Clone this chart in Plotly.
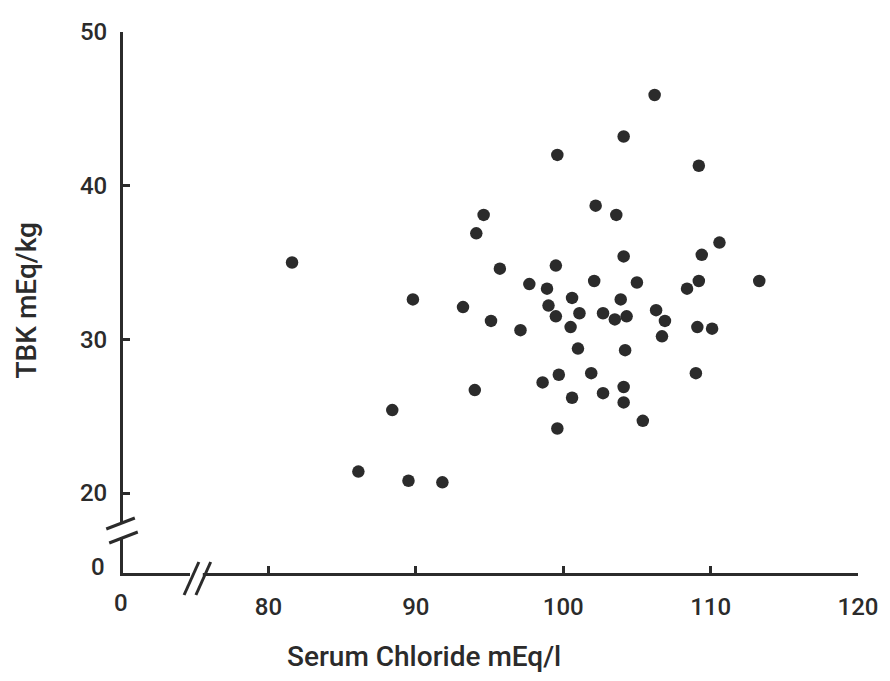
import plotly.graph_objects as go

# ---- data ----
chloride = [81.6, 86.1, 89.5, 91.8, 88.4, 89.8, 93.2, 94.0, 94.1, 94.6, 95.1, 95.7, 97.1, 97.7,
            98.6, 98.9, 99.0, 99.5, 99.5, 99.6, 99.6, 99.7, 100.6, 100.5, 100.6, 101.0, 101.1,
            101.9, 102.1, 102.2, 102.7, 102.7, 103.5, 103.6, 103.9, 104.1, 104.1, 104.2, 104.1,
            104.1, 104.3, 105.0, 105.4, 106.3, 106.2, 106.7, 106.9, 108.4, 109.0, 109.1, 109.2,
            109.2, 109.4, 110.1, 110.6, 113.3]
tbk = [35.0, 21.4, 20.8, 20.7, 25.4, 32.6, 32.1, 26.7, 36.9, 38.1, 31.2, 34.6, 30.6, 33.6,
       27.2, 33.3, 32.2, 31.5, 34.8, 42.0, 24.2, 27.7, 26.2, 30.8, 32.7, 29.4, 31.7,
       27.8, 33.8, 38.7, 26.5, 31.7, 31.3, 38.1, 32.6, 26.9, 25.9, 29.3, 35.4,
       43.2, 31.5, 33.7, 24.7, 31.9, 45.9, 30.2, 31.2, 33.3, 27.8, 30.8, 33.8,
       41.3, 35.5, 30.7, 36.3, 33.8]

x_ticks = [80, 90, 100, 110, 120]
y_ticks = [20, 30, 40, 50]
x_title = "Serum Chloride mEq/l"
y_title = "TBK mEq/kg"

# ---- layout geometry ----
FW, FH = 890, 681
L, R, T, B = 123, 21, 32, 108
W, H = FW - L - R, FH - T - B
X_RANGE = [70.13, 120]   # left end of axis stands for the broken "0"
Y_RANGE = [14.8, 50]     # bottom end of axis stands for the broken "0"

INK = "#2b2b2b"
FONT = "Roboto"
WEIGHT = 500


def px(xp):
    return (xp - L) / W


def py(yp):
    return (FH - B - yp) / H


fig = go.Figure()
fig.add_trace(go.Scatter(
    x=chloride, y=tbk, mode="markers",
    marker=dict(size=12.5, color=INK, line=dict(width=0)),
    hoverinfo="x+y", showlegend=False,
))

shapes = []
# x-axis break
shapes.append(dict(type="rect", xref="paper", yref="paper",
                   x0=px(191), x1=px(204), y0=py(580), y1=py(566),
                   fillcolor="white", line=dict(width=0), layer="above"))
for (a, b, c, d) in [(185, 595, 200, 562), (197, 595, 212, 562)]:
    shapes.append(dict(type="line", xref="paper", yref="paper",
                       x0=px(a), y0=py(b), x1=px(c), y1=py(d),
                       line=dict(color=INK, width=3), layer="above"))
# y-axis break
shapes.append(dict(type="rect", xref="paper", yref="paper",
                   x0=px(115), x1=px(131), y0=py(537), y1=py(524),
                   fillcolor="white", line=dict(width=0), layer="above"))
for (a, b, c, d) in [(106, 529, 135, 518), (109, 543, 138, 532)]:
    shapes.append(dict(type="line", xref="paper", yref="paper",
                       x0=px(a), y0=py(b), x1=px(c), y1=py(d),
                       line=dict(color=INK, width=3), layer="above"))

tick_font = dict(family=FONT, size=24, color=INK, weight=WEIGHT)
title_font = dict(family=FONT, size=28, color=INK, weight=WEIGHT)

annotations = [
    dict(text="0", xref="paper", yref="paper", x=px(98), y=py(567),
         xanchor="center", yanchor="middle", showarrow=False, font=tick_font),
    dict(text="0", xref="paper", yref="paper", x=px(121), y=py(603),
         xanchor="center", yanchor="middle", showarrow=False, font=tick_font),
    dict(text=x_title, xref="paper", yref="paper", x=px(429), y=py(656),
         xanchor="center", yanchor="middle", showarrow=False, font=title_font),
    dict(text=y_title, xref="paper", yref="paper", x=px(25), y=py(300),
         xanchor="center", yanchor="middle", showarrow=False, textangle=-90,
         font=title_font),
]

axis_common = dict(
    showgrid=False, zeroline=False, showline=True, linecolor=INK, linewidth=3,
    ticks="inside", ticklen=7, tickwidth=3, tickcolor=INK,
    tickfont=tick_font,
    fixedrange=True,
)

fig.update_layout(
    width=FW, height=FH,
    margin=dict(l=L, r=R, t=T, b=B),
    paper_bgcolor="white", plot_bgcolor="white",
    xaxis=dict(range=X_RANGE, tickvals=x_ticks, ticktext=[str(v) for v in x_ticks],
               ticklabelstandoff=10, **axis_common),
    yaxis=dict(range=Y_RANGE, tickvals=y_ticks, ticktext=[str(v) for v in y_ticks],
               ticklabelstandoff=8, **axis_common),
    shapes=shapes,
    annotations=annotations,
    showlegend=False,
)

fig.write_html("out.html")
